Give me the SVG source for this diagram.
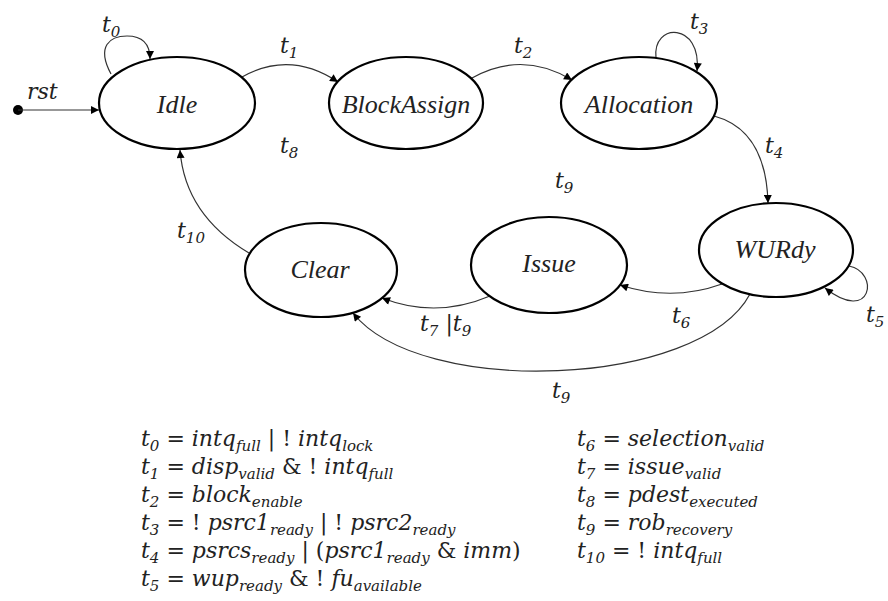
<svg xmlns="http://www.w3.org/2000/svg" width="888" height="601" viewBox="0 0 888 601">
<style>
.node{fill:#fff;stroke:#000;stroke-width:2.2}
.nt{font-family:'Liberation Serif','Times New Roman',Times,serif;font-style:italic;font-size:26px;fill:#222;text-anchor:middle}
.c{fill:none;stroke:#333;stroke-width:1.2;marker-end:url(#arr)}
.m{font-family:'DejaVu Serif',serif;font-style:italic;font-size:22px;fill:#222}
.sb{font-size:15px}
.op{font-style:normal}
</style>
<defs>
<marker id="arr" viewBox="0 0 10 10" refX="10" refY="5" markerWidth="11" markerHeight="8" markerUnits="userSpaceOnUse" orient="auto">
<path d="M0,0 L10,5 L0,10 z" fill="#000"/>
</marker>
</defs>
<rect width="888" height="601" fill="#fff"/>

<g id="connectors">
<circle cx="18" cy="110" r="5" fill="#000"/>
<path class="c" d="M18,110 L99,110"/>
<path class="c" d="M111,74 C96,46 110,36 127,36 C143,36 150,45 150,59"/>
<path class="c" d="M242,77 Q290,50 338,82"/>
<path class="c" d="M472,78 Q522,50 572,80"/>
<path class="c" d="M656,58 C652,22 702,22 697,71"/>
<path class="c" d="M714,116 Q766,130 768,203"/>
<path class="c" d="M849,266 C880,272 872,325 825,288"/>
<path class="c" d="M722,284 Q672,302 620,285"/>
<path class="c" d="M490,296 Q436,319 382,298"/>
<path class="c" d="M750,294 C700,388 420,398 353,313"/>
<path class="c" d="M249,253 Q185,215 180,150"/>
</g>

<g id="Idle"><ellipse class="node" cx="177" cy="103" rx="78" ry="46"/><text class="nt" x="177" y="113">Idle</text></g>
<g id="BlockAssign"><ellipse class="node" cx="406" cy="103" rx="77" ry="46"/><text class="nt" x="406" y="113">BlockAssign</text></g>
<g id="Allocation"><ellipse class="node" cx="639" cy="103" rx="78" ry="46"/><text class="nt" x="639" y="113">Allocation</text></g>
<g id="WURdy"><ellipse class="node" cx="776" cy="250" rx="77" ry="47"/><text class="nt" x="775" y="258">WURdy</text></g>
<g id="Issue"><ellipse class="node" cx="549" cy="265" rx="78" ry="48"/><text class="nt" x="549" y="272">Issue</text></g>
<g id="Clear"><ellipse class="node" cx="321" cy="270" rx="76" ry="47"/><text class="nt" x="320" y="278">Clear</text></g>

<g id="labels">
<text class="m" x="27" y="99">rst</text>
<text class="m" x="102" y="32">t<tspan class="sb" dy="5">0</tspan></text>
<text class="m" x="280" y="53">t<tspan class="sb" dy="5">1</tspan></text>
<text class="m" x="514" y="53">t<tspan class="sb" dy="5">2</tspan></text>
<text class="m" x="690" y="29">t<tspan class="sb" dy="5">3</tspan></text>
<text class="m" x="765" y="153">t<tspan class="sb" dy="5">4</tspan></text>
<text class="m" x="280" y="153">t<tspan class="sb" dy="5">8</tspan></text>
<text class="m" x="555" y="188">t<tspan class="sb" dy="5">9</tspan></text>
<text class="m" x="177" y="238">t<tspan class="sb" dy="5">10</tspan></text>
<text class="m" x="866" y="322">t<tspan class="sb" dy="5">5</tspan></text>
<text class="m" x="672" y="323">t<tspan class="sb" dy="5">6</tspan></text>
<text class="m" x="420" y="331">t<tspan class="sb" dy="5">7</tspan><tspan class="op" dy="-5"> |</tspan>t<tspan class="sb" dy="5">9</tspan></text>
<text class="m" x="552" y="398">t<tspan class="sb" dy="5">9</tspan></text>
</g>

<g id="legend">
<text class="m" x="141" y="446">t<tspan class="sb" dy="5">0</tspan><tspan class="op" dy="-5"> = </tspan>intq<tspan class="sb" dy="5">full</tspan><tspan class="op" dy="-5"> | ! </tspan>intq<tspan class="sb" dy="5">lock</tspan></text>
<text class="m" x="141" y="474">t<tspan class="sb" dy="5">1</tspan><tspan class="op" dy="-5"> = </tspan>disp<tspan class="sb" dy="5">valid</tspan><tspan class="op" dy="-5"> &amp; ! </tspan>intq<tspan class="sb" dy="5">full</tspan></text>
<text class="m" x="141" y="502">t<tspan class="sb" dy="5">2</tspan><tspan class="op" dy="-5"> = </tspan>block<tspan class="sb" dy="5">enable</tspan></text>
<text class="m" x="141" y="530">t<tspan class="sb" dy="5">3</tspan><tspan class="op" dy="-5"> = ! </tspan>psrc1<tspan class="sb" dy="5">ready</tspan><tspan class="op" dy="-5"> | ! </tspan>psrc2<tspan class="sb" dy="5">ready</tspan></text>
<text class="m" x="141" y="558">t<tspan class="sb" dy="5">4</tspan><tspan class="op" dy="-5"> = </tspan>psrcs<tspan class="sb" dy="5">ready</tspan><tspan class="op" dy="-5"> | (</tspan>psrc1<tspan class="sb" dy="5">ready</tspan><tspan class="op" dy="-5"> &amp; </tspan>imm<tspan class="op">)</tspan></text>
<text class="m" x="141" y="586">t<tspan class="sb" dy="5">5</tspan><tspan class="op" dy="-5"> = </tspan>wup<tspan class="sb" dy="5">ready</tspan><tspan class="op" dy="-5"> &amp; ! </tspan>fu<tspan class="sb" dy="5">available</tspan></text>
<text class="m" x="577" y="446">t<tspan class="sb" dy="5">6</tspan><tspan class="op" dy="-5"> = </tspan>selection<tspan class="sb" dy="5">valid</tspan></text>
<text class="m" x="577" y="474">t<tspan class="sb" dy="5">7</tspan><tspan class="op" dy="-5"> = </tspan>issue<tspan class="sb" dy="5">valid</tspan></text>
<text class="m" x="577" y="502">t<tspan class="sb" dy="5">8</tspan><tspan class="op" dy="-5"> = </tspan>pdest<tspan class="sb" dy="5">executed</tspan></text>
<text class="m" x="577" y="530">t<tspan class="sb" dy="5">9</tspan><tspan class="op" dy="-5"> = </tspan>rob<tspan class="sb" dy="5">recovery</tspan></text>
<text class="m" x="577" y="558">t<tspan class="sb" dy="5">10</tspan><tspan class="op" dy="-5"> = ! </tspan>intq<tspan class="sb" dy="5">full</tspan></text>
</g>
</svg>
